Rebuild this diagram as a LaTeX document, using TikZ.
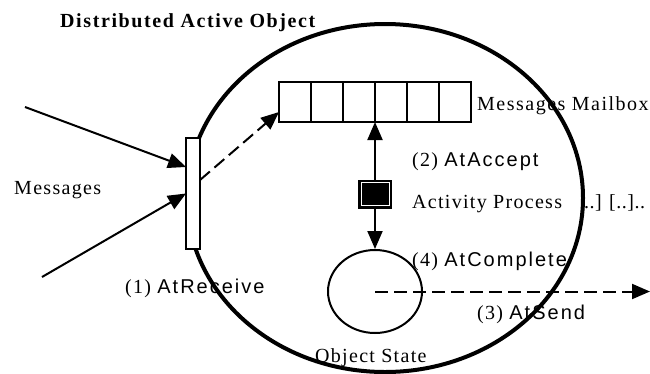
\documentclass[tikz,border=0pt]{standalone}
\usepackage{fontspec}
\setmainfont{Liberation Serif}[LetterSpace=6.5]
\newfontfamily\sansf{Liberation Sans}[LetterSpace=10]
\usetikzlibrary{arrows.meta,calc,shapes.geometric}
\begin{document}
\begin{tikzpicture}[x=1pt,y=-1pt,
  lbl/.style={anchor=base west, inner sep=0pt, font=\fontsize{20}{24}\selectfont},
  cell/.style={draw, line width=2pt, minimum width=32pt, minimum height=40pt, inner sep=0pt, outer sep=0pt},
  arr/.style={line width=2pt, -{Triangle[length=18pt,width=15pt]}},
  darr/.style={arr, dash pattern=on 13pt off 6pt},
]
\useasboundingbox (0,0) rectangle (650,373);
% labels
\node[lbl, font=\fontsize{20}{24}\selectfont\bfseries\addfontfeatures{LetterSpace=8}] (title) at (60,27) {Distributed Active Object};
\node[lbl] (msgs) at (14,194) {Messages};
\node[lbl, font=\fontsize{20}{24}\selectfont\addfontfeatures{LetterSpace=7.5}] (mbl) at (477,110) {Messages Mailbox};
\node[lbl] (acc) at (412,166) {(2) {\sansf AtAccept}};
\node[lbl] (actl) at (412,208) {Activity Process};
\node[lbl, font=\fontsize{20}{24}\selectfont\addfontfeatures{LetterSpace=2.5}] (dots) at (584,208) {..] [..]..};
\node[lbl] (cmp) at (412,266) {(4) {\sansf AtComplete}};
\node[lbl] (rcv) at (125,293) {(1) {\sansf AtReceive}};
\node[lbl] (snd) at (477,319) {(3) {\sansf AtSend}};
\node[lbl] (osl) at (315,362) {Object State};
% big ellipse
\node[draw, ellipse, line width=4pt, minimum width=396pt, minimum height=348pt, inner sep=0pt] (dao) at (385,198) {};
% receive bar
\node[draw, fill=white, line width=2pt, minimum width=14pt, minimum height=111pt, inner sep=0pt, outer sep=0pt] (bar) at (193,193.5) {};
% mailbox
\foreach \i/\x in {1/295,2/327,3/359,4/391,5/423,6/455}
  \node[cell] (m\i) at (\x,102) {};
% activity process square
\node[draw, fill=black, line width=1pt, minimum width=33pt, minimum height=28pt, inner sep=0pt, outer sep=0pt] (act) at (375,194) {};
\draw[white, line width=0.8pt] ($(act.north west)+(2.5,2.5)$) rectangle ($(act.south east)+(-2.5,-2.5)$);
% object state
\node[draw, ellipse, line width=2pt, minimum width=94pt, minimum height=83pt, inner sep=0pt] (st) at (375,291.5) {};
% incoming messages
\coordinate (in1) at (25,107);
\coordinate (in2) at (42,277);
\draw[arr] (in1) -- ($(bar.west)+(0,-26.5)$);
\draw[arr] (in2) -- (bar.west);
% to mailbox
\draw[darr] ($(bar.east)+(0,-13.5)$) -- ($(m1.south west)+(0,-10)$);
% accept
\draw[arr] (act.north) -- (m3.south east);
% complete
\draw[arr] (act.south) -- (st.north);
% send
\coordinate (out) at (650,291.5);
\draw[darr] (st.center) -- (out);
\end{tikzpicture}
\end{document}
